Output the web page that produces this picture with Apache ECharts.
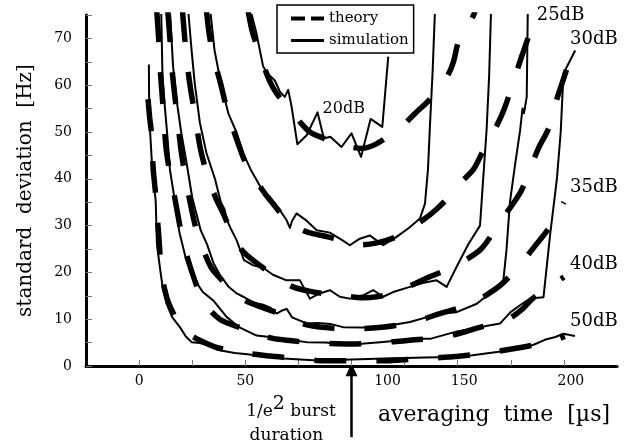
<!DOCTYPE html>
<html>
<head>
<meta charset="utf-8">
<script src="https://cdn.jsdelivr.net/npm/echarts@6/dist/echarts.min.js"></script>
<style>
  html, body { margin: 0; padding: 0; background: #fff; }
  #chart { width: 637px; height: 446px; }
</style>
</head>
<body>
<div id="chart"></div>
<script>
// standard deviation [Hz] vs averaging time [us]
const xTicks = [0, 50, 100, 150, 200];
const yTicks = [0, 10, 20, 30, 40, 50, 60, 70];
const snrNames = ['20dB', '25dB', '30dB', '35dB', '40dB', '50dB'];

const sim20 = [[52.5,76],[55.3,71],[58.4,64],[60.5,62.5],[63.9,61],[66.3,58.6],[68.6,57.5],[70.2,59],[71.8,55.4],[74.5,47.4],[78.9,49.3],[84,54.2],[87,48.6],[90,49],[95.3,46.8],[100,49.7],[104.5,44.7],[109,52.8],[114.5,51.1],[117.3,66.1]];
const th20 = [[51.3,76],[53,72],[55,69],[57.5,66],[60,62.5],[63,59.5],[66,57.5],[71,55],[76,52],[80.4,50],[86,48.8],[92,47.6],[99,46.8],[105,46.5],[111,47.3],[118,49.3],[124.4,51.5],[130,54],[136.3,56.7],[141,59.5],[145.2,62],[148,65],[150.3,69.2],[154,72],[157.5,75],[159,77]];

const sim25 = [[33.5,76],[35.5,67.5],[38.5,60.4],[42,54],[45.8,50],[49,45.5],[52.5,42],[57.5,38],[61.6,36.1],[66,33.5],[69.4,31.2],[71,29.5],[72,31],[74.1,32.6],[79,31],[83.6,29],[89.8,28.5],[96,26.8],[99.2,25.8],[103.9,27.2],[108.6,27.9],[114.9,25.8],[121.2,27.6],[127,29.5],[132.2,31.5],[134.6,34.7],[136,42],[137,52],[138.2,63],[139.3,76]];
const th25 = [[31.7,76],[33,71],[35,66],[38,61],[41.9,54],[46.6,47.6],[50,43.5],[54.5,40],[59,37],[63,34.7],[68,32],[74,29.7],[80,28.5],[89.8,27.5],[97,26.6],[104.8,25.9],[112,26.3],[120.6,27.5],[127,29.2],[134.6,31.5],[140,33.5],[145.6,36],[151,39],[157.4,42],[162,46],[168,51],[172,55],[176,60.5],[180,66],[183,70],[186,75.5],[187,77]];

const sim30 = [[23.1,76],[24.7,67.5],[26.2,60.4],[28.6,52],[31.7,45.5],[35.7,40],[38.5,35],[40.2,33.5],[41.5,31],[43,29.5],[45.9,26.9],[49.4,22.6],[53.7,21.5],[58.4,21],[63,19.5],[69.4,18.3],[75.7,18.3],[80.4,14.4],[85,15.5],[89.8,16.2],[94.5,14.8],[99.2,14.4],[105.5,15.1],[110.2,16.2],[114.9,14.8],[119.6,15.8],[127.5,16.9],[134,17.8],[140.1,18.3],[144.8,16.9],[149.5,21.2],[155,26],[160.5,30],[162,40],[163.6,50.4],[164.8,62],[165.7,76]];
const th30 = [[20.4,76],[21.5,70],[22.8,64],[24.3,59],[26.2,54],[28.6,47],[31,42.5],[33.3,39.2],[36.5,35.5],[39.6,32.6],[43,29],[46,26.2],[50,24],[57.7,21.2],[65,18.8],[72.5,16.9],[80,16],[86.7,15.5],[96,15],[105.5,14.6],[112,14.8],[118,15.4],[127,17],[135,18.7],[142,20],[148,21.2],[155,23],[161,25],[166,28],[170,31],[175,34],[180,37.5],[184,42],[188,46.5],[193,51],[197,57.5],[201,63],[204,68]];

const sim35 = [[14.5,76],[16,64],[17.6,57],[19.8,50],[22.5,43],[25,36],[29,29],[32,26],[35,22],[38,19.5],[42,17],[46,15.5],[49,14.8],[54,13.5],[58.4,13.1],[62,12.4],[64.7,11.2],[67,11.8],[69.5,12.2],[72,10.4],[78.9,9.1],[84,9.2],[90,9.0],[96,8.3],[105,8.2],[110,8.3],[120,8.8],[127.5,9.4],[136,10.5],[141.6,11.2],[149.5,11.5],[159,13.3],[165,15.5],[170,17.6],[171.5,18.3],[173,25],[174.6,35],[177,43],[179.4,50.4],[180.5,55],[181.2,54],[182.5,57.5],[183,76]];
const th35 = [[13.5,76],[14.5,70],[15.8,62],[17.5,55],[19.5,47],[21.5,41],[24,35],[27,29],[30.5,24.5],[34,21],[38,18.8],[44,16],[50,14],[58,12.5],[66,11.2],[72,10],[79,8.8],[88,8.2],[96,8],[104,8],[110,8.1],[120,8.6],[127.5,9.3],[135,10.2],[141.6,11.2],[150,12.3],[157,13.5],[164,15.3],[171,17.6],[179,21.5],[186,25.4],[193,29.5],[200,35]];

const sim40 = [[10.4,76],[11,62],[12,56],[13.2,49.7],[14.5,42],[16.8,35.4],[19,28.5],[22,23],[26,18.5],[30,15.8],[34.9,14],[41.2,10.5],[47,8.3],[55.3,6.5],[61.6,6.2],[70,5.6],[78.9,5.1],[88,5.0],[96,4.6],[100.2,4.5],[106,4.8],[113.5,5.1],[121,5.4],[129,5.8],[137,5.8],[149.7,7.4],[157.6,8],[164,8.6],[170,9.1],[174.9,11.5],[180,13.2],[184,14.4],[190.4,14.7],[193.5,28],[196.7,40],[198.5,50],[199.8,62.5],[205.3,67.4]];
const th40 = [[8.3,76],[9.2,70],[10,63],[11,57],[12.6,47],[14,42.5],[15.7,38.6],[17.6,33.9],[20.6,26.8],[23.5,22],[26.2,18.3],[29,15],[31.7,12.8],[38,10],[45,8.6],[49,8],[56,6.9],[63,5.9],[72,5.4],[80,5],[90,4.8],[100,4.7],[110,4.9],[120,5.2],[130,5.6],[143,6.1],[151,7],[159,8.1],[166,8.9],[173,9.8],[180,12],[185.5,14.5],[193,16.8],[200,19]];

const sim50 = [[4.6,64.4],[4.7,58],[5.2,50],[6.2,42],[7.8,35.4],[8.4,26],[9.8,21],[11.2,16.5],[12.9,13.4],[15.5,10.5],[19.2,8.3],[22,6.3],[24.7,5.1],[28.6,4.9],[32,4.5],[37.2,3.4],[45,2.8],[51,2.5],[60,2.0],[68,1.6],[76,1.4],[84,1.2],[92,1.3],[100,1.4],[108,1.5],[115,1.6],[125,1.7],[135,1.8],[147,1.9],[157,2.3],[165,2.8],[172,3.2],[180,3.7],[186,4.6],[191,5.6],[196,6.2],[199.7,6.9],[205.2,6.4]];
const th50 = [[4.2,57],[5,53],[5.8,49.8],[6.6,42.3],[7.4,38.5],[8.2,34.7],[8.7,31],[9.3,27.6],[10.3,21],[11.5,17.5],[13.7,13.7],[17,10.5],[20,8.5],[23,7],[28,5.6],[35.6,4.1],[43,3.3],[51,2.7],[60,2.2],[67,1.9],[75,1.5],[83.6,1.2],[99,1.1],[113,1.1],[130,1.5],[146,1.9],[162,2.7],[179,3.9],[193.6,5.3],[200.5,6.3]];

// where each SNR label sits (data coords, left edge / vertical middle)
const labelAnchors = [[86.4,54.9],[187.2,75],[202.9,69.7],[202.9,38.2],[202.9,21.7],[202.9,9.6]];
const burstTime = 100;

const FONT = 'DejaVu Serif';

const curves = [
    { sim: sim20, theory: th20 },
    { sim: sim25, theory: th25 },
    { sim: sim30, theory: th30 },
    { sim: sim35, theory: th35 },
    { sim: sim40, theory: th40 },
    { sim: sim50, theory: th50 }
];

const series = [];
curves.forEach(c => {
    series.push({
        name: 'theory', type: 'line', data: c.theory, smooth: 0.3, symbol: 'none',
        itemStyle: { color: '#000' },
        lineStyle: { color: '#000', width: 5.5, type: [32, 30], cap: 'butt' }
    });
    series.push({
        name: 'simulation', type: 'line', data: c.sim, symbol: 'none',
        itemStyle: { color: '#000' },
        lineStyle: { color: '#000', width: 2, join: 'round' }
    });
});

const chartDom = document.getElementById('chart');
const chart = echarts.init(chartDom, null, { renderer: 'canvas' });

// 3-digit labels sit a little right of their ticks; 100 is pushed past the arrow
const xShift = { 100: 72, 150: 13, 200: 14 };

const option = {
    animation: false,
    backgroundColor: '#fff',
    textStyle: { fontFamily: FONT, color: '#000' },
    grid: { left: 86, right: 20, top: 15, bottom: 80 },
    legend: {
        orient: 'vertical',
        left: 277, top: 5,
        padding: [6, 5, 5, 12],
        itemGap: 7, itemWidth: 33, itemHeight: 14,
        borderColor: '#000', borderWidth: 1.5,
        backgroundColor: '#fff',
        textStyle: { fontFamily: FONT, fontSize: 15, color: '#000' },
        data: [
            { name: 'theory', itemStyle: { opacity: 0 }, lineStyle: { type: [14, 6], width: 4, cap: 'butt', color: '#000' } },
            { name: 'simulation', itemStyle: { opacity: 0 }, lineStyle: { width: 3, color: '#000' } }
        ]
    },
    xAxis: {
        type: 'value', min: -25, max: 225, interval: 25,
        name: 'averaging  time  [µs]',
        nameLocation: 'end', nameGap: -7,
        nameTextStyle: { fontFamily: FONT, fontSize: 22, color: '#000', align: 'right', verticalAlign: 'top', padding: [38, 0, 0, 0] },
        splitLine: { show: false },
        axisLine: { onZero: false, lineStyle: { color: '#000', width: 3 } },
        axisTick: { inside: true, length: 6, lineStyle: { color: '#777', width: 1 } },
        axisLabel: {
            margin: 8, fontFamily: FONT, fontSize: 14, color: '#000',
            showMaxLabel: false, showMinLabel: false,
            formatter: v => {
                if (!xTicks.includes(v)) return '';
                return xShift[v] ? '{s' + v + '|' + v + '}' : String(v);
            },
            rich: {
                s100: { fontFamily: FONT, fontSize: 14, color: '#000', padding: [0, 0, 0, xShift[100]] },
                s150: { fontFamily: FONT, fontSize: 14, color: '#000', padding: [0, 0, 0, xShift[150]] },
                s200: { fontFamily: FONT, fontSize: 14, color: '#000', padding: [0, 0, 0, xShift[200]] }
            }
        }
    },
    yAxis: {
        type: 'value', min: 0, max: 75, interval: 5,
        name: 'standard  deviation  [Hz]',
        nameLocation: 'middle', nameGap: 50, nameRotate: 90,
        nameTextStyle: { fontFamily: FONT, fontSize: 20, color: '#000' },
        splitLine: { show: false },
        axisLine: { onZero: false, lineStyle: { color: '#000', width: 3 } },
        axisTick: { inside: true, length: 6, lineStyle: { color: '#777', width: 1 } },
        axisLabel: {
            margin: 14, fontFamily: FONT, fontSize: 14, color: '#000',
            formatter: v => yTicks.includes(v) ? String(v) : ''
        }
    },
    series: series
};

chart.setOption(option);

// annotations: SNR labels, burst-duration arrow and its caption
const toPx = p => chart.convertToPixel({ gridIndex: 0 }, p);
const graphics = [];
snrNames.forEach((name, i) => {
    const p = toPx(labelAnchors[i]);
    graphics.push({
        type: 'text', x: p[0], y: p[1],
        style: { text: name, fontFamily: FONT, fontSize: i === 0 ? 16 : 18, fill: '#000', align: 'left', verticalAlign: 'middle' }
    });
});

const tip = toPx([burstTime, 0.6]);
const tail = toPx([burstTime, -15.2]);
graphics.push({
    type: 'line',
    shape: { x1: tail[0], y1: tail[1], x2: tip[0], y2: tip[1] + 10 },
    style: { stroke: '#000', lineWidth: 2.5 }
});
graphics.push({
    type: 'polygon',
    shape: { points: [[tip[0], tip[1]], [tip[0] - 6, tip[1] + 13], [tip[0] + 6, tip[1] + 13]] },
    style: { fill: '#000' }
});
const cap1 = toPx([50.4, -8.8]);
const cap2 = toPx([52, -14.8]);
graphics.push({
    type: 'text', x: cap1[0], y: cap1[1],
    style: {
        text: '{b|1/e}{s|2}{b| burst}',
        align: 'left', verticalAlign: 'middle',
        rich: {
            b: { fontFamily: FONT, fontSize: 17, fill: '#000', verticalAlign: 'bottom', lineHeight: 26 },
            s: { fontFamily: FONT, fontSize: 19, fill: '#000', verticalAlign: 'top', lineHeight: 26 }
        }
    }
});
graphics.push({
    type: 'text', x: cap2[0], y: cap2[1],
    style: { text: 'duration', fontFamily: FONT, fontSize: 17, fill: '#000', align: 'left', verticalAlign: 'middle' }
});

chart.setOption({ graphic: graphics });

window.addEventListener('resize', function() {
    chart.resize();
});
</script>
</body>
</html>
